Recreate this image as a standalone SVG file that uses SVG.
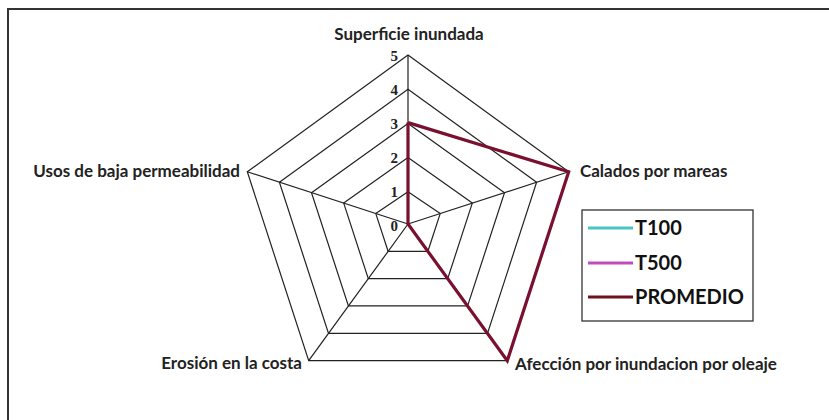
<svg xmlns="http://www.w3.org/2000/svg" width="829" height="420" viewBox="0 0 829 420">
<style>
.grid{fill:none;stroke:#222;stroke-width:1.2}
.lbl{font-family:Lato,"Open Sans","Liberation Sans",sans-serif;font-weight:bold;font-size:17px;fill:#222}
.num{font-family:"Liberation Serif",serif;font-weight:bold;font-size:15px;fill:#222;text-anchor:end}
.leg{font-family:Lato,"Open Sans","Liberation Sans",sans-serif;font-weight:bold;font-size:20px;fill:#111}
</style>
<rect x="0" y="0" width="829" height="420" fill="#fff"/>
<path d="M8,440 V9 H840" fill="none" stroke="#333" stroke-width="2"/>
<g id="grid">
<polygon class="grid" points="408,55 568.7,171.8 507.3,360.7 308.7,360.7 247.3,171.8"/>
<polygon class="grid" points="408,89.2 536.6,182.2 487.5,333.4 328.5,333.4 279.4,182.2"/>
<polygon class="grid" points="408,123.4 504.5,192.7 467.6,305.9 348.4,305.9 311.5,192.7"/>
<polygon class="grid" points="408,157.6 472.3,203.1 447.7,278.7 368.3,278.7 343.7,203.1"/>
<polygon class="grid" points="408,191.8 440.2,213.6 427.9,251.3 388.1,251.3 375.8,213.6"/>
<path class="grid" d="M408,224 V55 M408,224 L568.7,171.8 M408,224 L507.3,360.7 M408,224 L308.7,360.7 M408,224 L247.3,171.8"/>
</g>
<g id="axis-numbers">
<text class="num" x="398" y="61">5</text>
<text class="num" x="398" y="95">4</text>
<text class="num" x="398" y="129">3</text>
<text class="num" x="398" y="163">2</text>
<text class="num" x="398" y="197">1</text>
<text class="num" x="398" y="231">0</text>
</g>
<g id="axis-labels">
<text class="lbl" x="409" y="40" text-anchor="middle">Superficie inundada</text>
<text class="lbl" x="580" y="177">Calados por mareas</text>
<text class="lbl" x="515" y="370">Afección por inundacion por oleaje</text>
<text class="lbl" x="302" y="369" text-anchor="end">Erosión en la costa</text>
<text class="lbl" x="240" y="177" text-anchor="end">Usos de baja permeabilidad</text>
</g>
<g id="connectors">
<polyline id="series-promedio" points="408,122.6 568.7,171.8 507.3,360.7 408,224 408,224 408,122.6" fill="none" stroke="#7a1030" stroke-width="3.2" stroke-linejoin="miter"/>
</g>
<g id="legend">
<rect x="582" y="210" width="171" height="111" fill="#fff" stroke="#333" stroke-width="1.3"/>
<line x1="588" y1="228" x2="633" y2="228" stroke="#4cc4c4" stroke-width="3"/>
<text class="leg" x="635" y="235">T100</text>
<line x1="588" y1="263" x2="633" y2="263" stroke="#c04cc0" stroke-width="3"/>
<text class="leg" x="635" y="270">T500</text>
<line x1="588" y1="297" x2="633" y2="297" stroke="#6e1020" stroke-width="3"/>
<text class="leg" x="635" y="304">PROMEDIO</text>
</g>
</svg>
